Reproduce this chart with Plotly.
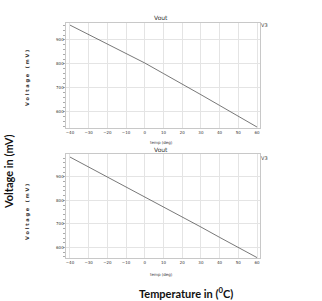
import plotly.graph_objects as go

temps = [-40, -30, -20, -10, 0, 10, 20, 30, 40, 50, 60]
vout_top = [962, 923, 884, 844, 804, 760, 717, 672, 627, 582, 537]
vout_bottom = [984, 942, 899, 857, 814, 772, 731, 687, 643, 600, 557]
x_ticks = [-40, -30, -20, -10, 0, 10, 20, 30, 40, 50, 60]
y_ticks = [600, 700, 800, 900]

fig = go.Figure()
fig.add_trace(go.Scatter(x=temps, y=vout_top, mode="lines",
                         line=dict(color="#555555", width=0.8), xaxis="x", yaxis="y", showlegend=False))
fig.add_trace(go.Scatter(x=temps, y=vout_bottom, mode="lines",
                         line=dict(color="#555555", width=0.8), xaxis="x2", yaxis="y2", showlegend=False))

xd = [65.5 / 322, 260 / 322]
ax_common = dict(showline=True, linecolor="#c8c8c8", linewidth=1, mirror=True,
                 showgrid=True, gridcolor="#e4e4e4", gridwidth=1, zeroline=False,
                 tickfont=dict(size=4, color="#333333", family="DejaVu Sans"), ticks="")
fig.update_layout(
    width=322, height=301, margin=dict(l=0, r=0, t=0, b=0),
    paper_bgcolor="white", plot_bgcolor="white",
    xaxis=dict(domain=xd, range=[-42.4, 61.6], tickvals=x_ticks, anchor="y", **ax_common),
    yaxis=dict(domain=[1 - 128 / 301, 1 - 22.7 / 301], range=[533, 972], tickvals=y_ticks, anchor="x",
               minor=dict(dtick=20, ticks="outside", ticklen=2, tickcolor="#aaaaaa", showgrid=False),
               **ax_common),
    xaxis2=dict(domain=xd, range=[-42.4, 61.6], tickvals=x_ticks, anchor="y2", **ax_common),
    yaxis2=dict(domain=[1 - 258.3 / 301, 1 - 154 / 301], range=[554, 997], tickvals=y_ticks, anchor="x2",
                minor=dict(dtick=20, ticks="outside", ticklen=2, tickcolor="#aaaaaa", showgrid=False),
                **ax_common),
)

def ann(text, x, y, size, color="#333333", family="DejaVu Sans", angle=0, bold=False):
    t = f"<b>{text}</b>" if bold else text
    fig.add_annotation(text=t, x=x / 322, y=1 - y / 301, xref="paper", yref="paper",
                       showarrow=False, textangle=angle, xanchor="center", yanchor="middle",
                       font=dict(size=size, color=color, family=family))

ann("Vout", 161, 18, 6)
ann("Vout", 161, 149.5, 6)
ann("temp (deg)", 162, 142, 4)
ann("temp (deg)", 162, 274, 4)
ann("V3", 264, 25, 5)
ann("V3", 264, 158, 5)
ann("V o l t a g e   ( m V )", 28, 78, 5, angle=-90, bold=True)
ann("V o l t a g e   ( m V )", 28, 212, 5, angle=-90, bold=True)
ann("Voltage in (mV)", 8, 172, 11, color="#111111", family="Lato", angle=-90, bold=True)
ann("Temperature in (<sup>0</sup>C)", 186, 292, 11, color="#111111", family="Lato", bold=True)

fig.write_html("out.html")
